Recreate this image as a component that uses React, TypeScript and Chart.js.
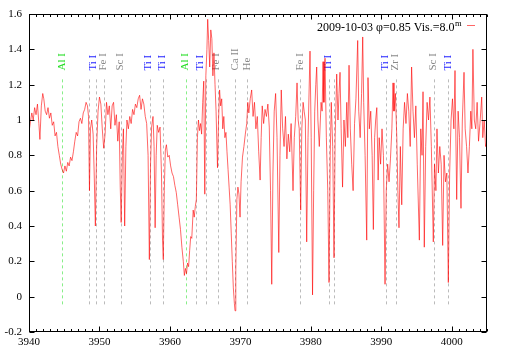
import React, { useEffect, useRef } from "react";
import { Chart, registerables } from "chart.js";

Chart.register(...registerables);

const FONT = '"Liberation Serif", "Times New Roman", serif';

const xMin = 3940;
const xMax = 4005;
const yMin = -0.2;
const yMax = 1.6;
const xTicks = [3940, 3950, 3960, 3970, 3980, 3990, 4000];
const xMinorStep = 1;
const yTicks = [-0.2, 0, 0.2, 0.4, 0.6, 0.8, 1, 1.2, 1.4, 1.6];

// identified line positions (dashed markers)
const markerWavelengths = [
  3944.73, 3948.56, 3949.47, 3950.69, 3953.06, 3957.13, 3959.02, 3962.33, 3963.66,
  3965.08, 3966.78, 3969.28, 3970.94, 3978.5, 3982.57, 3983.33, 3990.62, 3992.04,
  3997.48, 3999.51,
];
const markerKinds = [
  "Al", "x", "x", "x", "x", "x", "x", "Al", "x",
  "x", "x", "x", "x", "x", "x", "x", "x", "x",
  "x", "x",
];
const markerTop = 1.23;
const markerBottom = -0.06;

const labelTexts = [
  "Al I", "Ti I", "Fe I", "Sc I", "Ti I", "Ti I", "Al I", "Ti I", "Fe I",
  "Ca II", "He", "Fe I", "Ti I", "Ti I", "Zr I", "Sc I", "Ti I",
];
const labelWavelengths = [
  3944.73, 3949.13, 3950.55, 3952.92, 3956.93, 3958.83, 3962.14, 3964.27, 3966.58,
  3969.19, 3970.9, 3978.42, 3982.44, 3990.48, 3991.9, 3997.34, 3999.47,
];
const labelColors = [
  "#22dd22", "#2222ff", "#888888", "#888888", "#2222ff", "#2222ff", "#22dd22", "#2222ff", "#888888",
  "#888888", "#888888", "#888888", "#2222ff", "#2222ff", "#888888", "#888888", "#2222ff",
];
const labelBaseValue = 1.28;

const legendText = "2009-10-03 \u03c6=0.85 Vis.=8.0";
const legendSup = "m";

// normalized flux vs wavelength (Angstrom)
const spectrum: [number, number][] = [
  [3940.0, 0.93], [3940.2, 0.99], [3940.4, 1.04], [3940.6, 1.0], [3940.8, 1.07],
  [3941.0, 1.03], [3941.2, 1.09], [3941.4, 0.98], [3941.55, 0.89], [3941.75, 1.08],
  [3941.95, 1.15], [3942.1, 1.12], [3942.3, 1.05], [3942.5, 1.03], [3942.7, 1.07],
  [3942.9, 1.01], [3943.1, 1.04], [3943.3, 0.97], [3943.5, 0.99], [3943.7, 0.91],
  [3943.9, 0.93], [3944.1, 0.85], [3944.3, 0.8], [3944.5, 0.75], [3944.7, 0.72],
  [3944.9, 0.7], [3945.1, 0.74], [3945.3, 0.71], [3945.5, 0.76], [3945.7, 0.74],
  [3945.9, 0.79], [3946.1, 0.77], [3946.3, 0.82], [3946.5, 0.88], [3946.7, 0.93],
  [3946.9, 0.91], [3947.1, 0.99], [3947.3, 1.01], [3947.5, 0.98], [3947.7, 1.04],
  [3947.9, 1.06], [3948.1, 1.1], [3948.3, 1.08], [3948.45, 1.02], [3948.58, 0.6],
  [3948.72, 0.95], [3948.9, 1.0], [3949.1, 0.92], [3949.25, 0.7], [3949.42, 0.4],
  [3949.6, 0.85], [3949.8, 1.05], [3950.0, 1.13], [3950.2, 1.09], [3950.4, 0.95],
  [3950.6, 0.84], [3950.8, 0.92], [3951.0, 1.1], [3951.2, 1.03], [3951.4, 1.08],
  [3951.6, 0.95], [3951.8, 1.08], [3952.0, 1.1], [3952.2, 0.97], [3952.4, 1.03],
  [3952.6, 0.88], [3952.8, 0.99], [3952.95, 0.62], [3953.08, 0.42], [3953.25, 0.8],
  [3953.4, 0.95], [3953.58, 0.4], [3953.75, 0.85], [3953.9, 1.0], [3954.1, 0.95],
  [3954.3, 1.02], [3954.5, 0.98], [3954.7, 1.06], [3954.9, 1.03], [3955.1, 1.09],
  [3955.3, 1.07], [3955.5, 1.12], [3955.7, 1.14], [3955.9, 1.06], [3956.1, 1.12],
  [3956.3, 1.09], [3956.5, 1.02], [3956.7, 0.98], [3956.9, 0.8], [3957.08, 0.21],
  [3957.25, 0.75], [3957.4, 0.96], [3957.6, 1.02], [3957.75, 0.85], [3957.9, 0.39],
  [3958.05, 0.8], [3958.2, 0.97], [3958.4, 0.93], [3958.6, 0.96], [3958.8, 0.7],
  [3958.95, 0.32], [3959.06, 0.21], [3959.2, 0.6], [3959.35, 0.83], [3959.5, 0.86],
  [3959.7, 0.79], [3959.9, 0.8], [3960.1, 0.74], [3960.3, 0.7], [3960.5, 0.68],
  [3960.7, 0.63], [3960.9, 0.59], [3961.1, 0.52], [3961.3, 0.45], [3961.5, 0.38],
  [3961.7, 0.28], [3961.9, 0.2], [3962.05, 0.12], [3962.2, 0.16], [3962.35, 0.13],
  [3962.5, 0.19], [3962.65, 0.17], [3962.8, 0.26], [3962.95, 0.34], [3963.1, 0.33],
  [3963.3, 0.49], [3963.45, 0.45], [3963.6, 0.51], [3963.75, 0.55], [3963.9, 0.9],
  [3964.05, 1.0], [3964.2, 0.94], [3964.35, 0.98], [3964.5, 0.92], [3964.65, 1.1],
  [3964.8, 1.22], [3964.95, 0.58], [3965.1, 1.25], [3965.25, 1.4], [3965.36, 1.57],
  [3965.5, 1.45], [3965.65, 1.3], [3965.8, 1.51], [3965.95, 1.46], [3966.1, 1.25],
  [3966.25, 1.38], [3966.4, 1.2], [3966.55, 1.05], [3966.75, 0.73], [3966.9, 1.0],
  [3967.05, 1.17], [3967.2, 1.08], [3967.35, 1.12], [3967.5, 0.95], [3967.65, 1.02],
  [3967.8, 0.9], [3967.95, 0.93], [3968.1, 0.82], [3968.25, 0.72], [3968.4, 0.62],
  [3968.55, 0.52], [3968.7, 0.36], [3968.85, 0.2], [3969.0, 0.05], [3969.15, -0.04],
  [3969.24, -0.08], [3969.35, 0.15], [3969.5, 0.55], [3969.65, 0.62], [3969.8, 0.58],
  [3969.95, 0.45], [3970.1, 0.65], [3970.3, 0.79], [3970.5, 0.85], [3970.7, 0.92],
  [3970.9, 0.98], [3971.05, 1.1], [3971.2, 1.04], [3971.4, 1.12], [3971.6, 1.17],
  [3971.8, 1.02], [3972.0, 1.1], [3972.2, 0.95], [3972.4, 1.02], [3972.6, 0.82],
  [3972.8, 0.66], [3972.95, 0.9], [3973.1, 1.08], [3973.3, 0.98], [3973.5, 1.06],
  [3973.7, 1.02], [3973.9, 1.09], [3974.1, 0.96], [3974.28, 0.6], [3974.45, 0.07],
  [3974.62, 0.7], [3974.8, 1.05], [3975.0, 1.15], [3975.2, 0.9], [3975.45, 0.25],
  [3975.62, 0.8], [3975.8, 1.17], [3976.0, 0.95], [3976.2, 0.85], [3976.4, 1.02],
  [3976.6, 0.78], [3976.8, 0.92], [3977.0, 0.82], [3977.2, 0.98], [3977.47, 0.6],
  [3977.65, 0.9], [3977.85, 1.02], [3978.04, 1.21], [3978.2, 1.0], [3978.35, 0.95],
  [3978.56, 0.49], [3978.72, 0.95], [3978.9, 1.1], [3979.05, 1.05], [3979.22, 1.0],
  [3979.41, 0.31], [3979.6, 0.9], [3979.88, 1.39], [3980.05, 0.9], [3980.24, 0.01],
  [3980.4, 0.6], [3980.55, 1.05], [3980.7, 1.2], [3980.83, 1.3], [3981.0, 1.0],
  [3981.2, 0.85], [3981.45, 1.1], [3981.6, 1.05], [3981.73, 1.33], [3981.85, 1.1],
  [3982.01, 1.35], [3982.2, 0.9], [3982.4, 0.6], [3982.58, 0.08], [3982.75, 0.8],
  [3982.9, 1.1], [3983.1, 0.85], [3983.29, 0.22], [3983.45, 0.9], [3983.67, 1.26],
  [3983.85, 1.0], [3984.0, 1.15], [3984.14, 1.27], [3984.3, 0.95], [3984.5, 0.62],
  [3984.7, 1.0], [3984.9, 0.85], [3985.1, 1.1], [3985.25, 0.9], [3985.42, 1.31],
  [3985.6, 0.95], [3985.8, 0.75], [3986.0, 0.6], [3986.2, 0.98], [3986.4, 1.12],
  [3986.65, 1.45], [3986.8, 1.05], [3987.0, 0.9], [3987.2, 1.15], [3987.36, 1.47],
  [3987.5, 1.1], [3987.7, 0.8], [3987.93, 0.32], [3988.11, 1.24], [3988.3, 0.95],
  [3988.5, 1.05], [3988.7, 0.8], [3988.87, 0.38], [3989.05, 0.9], [3989.2, 1.0],
  [3989.36, 1.07], [3989.55, 0.66], [3989.7, 0.9], [3989.9, 0.75], [3990.1, 0.95],
  [3990.3, 0.8], [3990.53, 0.07], [3990.7, 0.6], [3990.9, 0.75], [3991.1, 0.65],
  [3991.3, 0.78], [3991.5, 0.95], [3991.66, 1.21], [3991.8, 1.05], [3992.0, 1.15],
  [3992.2, 0.9], [3992.35, 0.6], [3992.51, 0.39], [3992.7, 0.85], [3992.9, 0.52],
  [3993.1, 0.95], [3993.3, 1.1], [3993.5, 0.98], [3993.7, 1.15], [3993.9, 1.05],
  [3994.1, 0.85], [3994.3, 1.3], [3994.5, 1.05], [3994.7, 0.9], [3994.9, 1.08],
  [3995.1, 0.75], [3995.4, 0.32], [3995.6, 0.95], [3995.78, 0.8], [3995.92, 1.16],
  [3996.1, 0.28], [3996.3, 0.85], [3996.5, 1.1], [3996.7, 1.0], [3996.9, 1.13],
  [3997.1, 0.85], [3997.38, 0.31], [3997.55, 0.75], [3997.75, 0.6], [3997.9, 0.95],
  [3998.1, 0.7], [3998.3, 0.85], [3998.5, 0.75], [3998.71, 0.29], [3998.9, 0.8],
  [3999.1, 0.65], [3999.3, 0.7], [3999.51, 0.08], [3999.7, 0.7], [3999.9, 1.0],
  [4000.1, 1.12], [4000.3, 0.95], [4000.46, 1.28], [4000.7, 0.55], [4000.9, 1.05],
  [4001.1, 0.9], [4001.31, 0.5], [4001.5, 1.0], [4001.74, 1.27], [4001.9, 0.95],
  [4002.1, 0.85], [4002.3, 0.7], [4002.5, 0.85], [4002.7, 1.05], [4002.85, 0.95],
  [4003.0, 1.4], [4003.2, 1.0], [4003.4, 0.95], [4003.6, 1.1], [4003.8, 0.88],
  [4004.0, 0.98], [4004.25, 1.13], [4004.4, 0.9], [4004.6, 1.0], [4004.8, 0.85],
  [4005.0, 0.88],
];

const SPECTRUM_COLOR = "rgba(255, 0, 0, 0.6)";

const overlayPlugin = {
  id: "overlay",
  beforeDatasetsDraw(chart: any) {
    const { ctx } = chart;
    const x = chart.scales.x;
    const y = chart.scales.y;
    ctx.save();
    ctx.lineWidth = 1;
    ctx.setLineDash([3, 3]);
    markerWavelengths.forEach((w, i) => {
      const px = Math.round(x.getPixelForValue(w)) + 0.5;
      ctx.strokeStyle = markerKinds[i] === "Al" ? "#88ee88" : "#bbbbbb";
      ctx.beginPath();
      ctx.moveTo(px, y.getPixelForValue(markerTop));
      ctx.lineTo(px, y.getPixelForValue(markerBottom));
      ctx.stroke();
    });
    ctx.setLineDash([]);
    ctx.font = `11px ${FONT}`;
    ctx.textAlign = "left";
    ctx.textBaseline = "middle";
    labelTexts.forEach((t, i) => {
      const px = x.getPixelForValue(labelWavelengths[i]);
      const py = y.getPixelForValue(labelBaseValue);
      ctx.save();
      ctx.translate(px, py);
      ctx.rotate(-Math.PI / 2);
      ctx.fillStyle = labelColors[i];
      ctx.fillText(t, 0, 0);
      ctx.restore();
    });
    ctx.restore();
  },
  afterDatasetsDraw(chart: any) {
    const { ctx, chartArea } = chart;
    const x = chart.scales.x;
    const y = chart.scales.y;
    const { left, right, top, bottom } = chartArea;
    ctx.save();
    ctx.strokeStyle = "#000";
    ctx.lineWidth = 1;
    const L = Math.round(left) + 0.5;
    const R = Math.round(right) - 0.5;
    const T = Math.round(top) + 0.5;
    const B = Math.round(bottom) - 0.5;
    ctx.strokeRect(L, T, R - L, B - T);
    ctx.beginPath();
    for (let v = xMin; v <= xMax; v += xMinorStep) {
      const px = Math.round(x.getPixelForValue(v)) + 0.5;
      const len = xTicks.includes(v) ? 5 : 2.5;
      ctx.moveTo(px, B);
      ctx.lineTo(px, B - len);
      ctx.moveTo(px, T);
      ctx.lineTo(px, T + len);
    }
    yTicks.forEach((v) => {
      const py = Math.round(y.getPixelForValue(v)) + 0.5;
      ctx.moveTo(L, py);
      ctx.lineTo(L + 5, py);
      ctx.moveTo(R, py);
      ctx.lineTo(R - 5, py);
    });
    ctx.stroke();

    // legend
    ctx.fillStyle = "#000";
    ctx.font = `12px ${FONT}`;
    ctx.textAlign = "right";
    ctx.textBaseline = "alphabetic";
    const textRight = 454.5;
    ctx.fillText(legendText, textRight, 31);
    ctx.font = `8.5px ${FONT}`;
    ctx.textAlign = "left";
    ctx.fillText(legendSup, textRight + 0.5, 25.5);
    ctx.strokeStyle = SPECTRUM_COLOR;
    ctx.beginPath();
    ctx.moveTo(467, 25.5);
    ctx.lineTo(475, 25.5);
    ctx.stroke();
    ctx.restore();
  },
};

export default function App() {
  const canvasRef = useRef<HTMLCanvasElement | null>(null);

  useEffect(() => {
    const canvas = canvasRef.current;
    if (!canvas) return;
    const chart = new Chart(canvas, {
      type: "line",
      data: {
        datasets: [
          {
            label: "spectrum",
            data: spectrum.map(([w, f]) => ({ x: w, y: f })),
            borderColor: SPECTRUM_COLOR,
            borderWidth: 1,
            pointRadius: 0,
            tension: 0,
            fill: false,
          },
        ],
      },
      options: {
        animation: false,
        responsive: false,
        maintainAspectRatio: false,
        devicePixelRatio: 1,
        layout: { padding: { left: 0, top: 14, right: 22, bottom: 0 } },
        plugins: { legend: { display: false }, tooltip: { enabled: false } },
        scales: {
          x: {
            type: "linear",
            min: xMin,
            max: xMax,
            grid: { display: false, drawTicks: false },
            border: { display: false },
            afterBuildTicks: (s: any) => {
              s.ticks = xTicks.map((v) => ({ value: v }));
            },
            afterFit: (s: any) => {
              s.height = 24;
            },
            ticks: {
              autoSkip: false,
              maxRotation: 0,
              padding: 4,
              color: "#000",
              font: { family: FONT, size: 11 },
              callback: (v: any) => String(v),
            },
          },
          y: {
            type: "linear",
            min: yMin,
            max: yMax,
            grid: { display: false, drawTicks: false },
            border: { display: false },
            afterBuildTicks: (s: any) => {
              s.ticks = yTicks.map((v) => ({ value: v }));
            },
            afterFit: (s: any) => {
              s.width = 29;
            },
            ticks: {
              autoSkip: false,
              padding: 7,
              color: "#000",
              font: { family: FONT, size: 11 },
              callback: (v: any) => {
                const n = Number(v);
                return Math.abs(n) < 1e-9 ? "0" : String(parseFloat(n.toFixed(1)));
              },
            },
          },
        },
      },
      plugins: [overlayPlugin],
    });
    return () => chart.destroy();
  }, []);

  return (
    <div style={{ position: "absolute", left: 0, top: 0, width: 509, height: 356, background: "#fff" }}>
      <canvas ref={canvasRef} width={509} height={356} style={{ width: 509, height: 356, display: "block" }} />
    </div>
  );
}
